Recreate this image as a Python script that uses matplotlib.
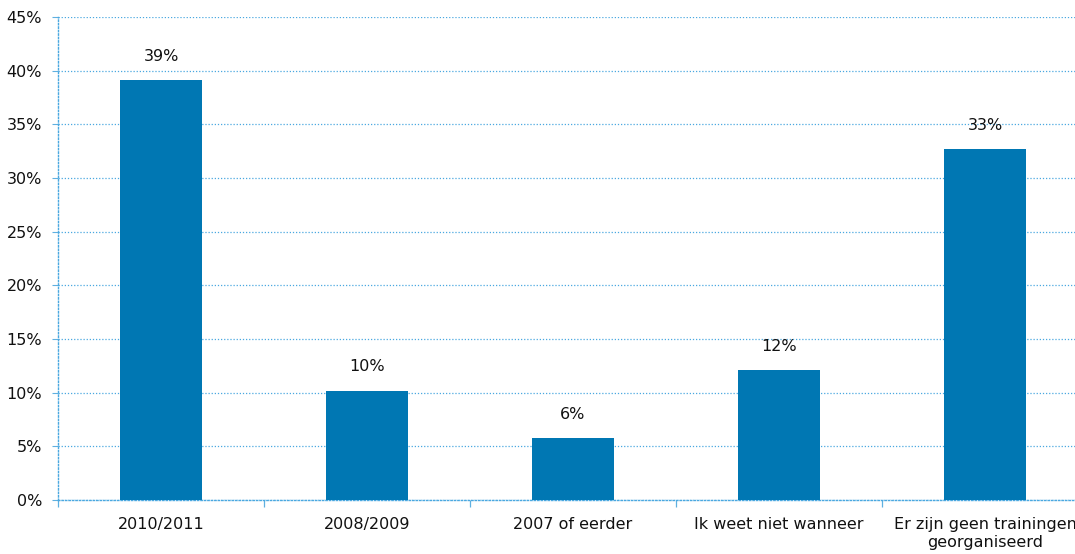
import matplotlib
matplotlib.use("Agg")
import matplotlib.pyplot as plt
from matplotlib.ticker import FuncFormatter, MultipleLocator, FixedLocator

categories = ["2010/2011", "2008/2009", "2007 of eerder", "Ik weet niet wanneer",
              "Er zijn geen trainingen\ngeorganiseerd"]
values = [39.1, 10.2, 5.8, 12.1, 32.7]
labels = ["39%", "10%", "6%", "12%", "33%"]

plt.rcParams['font.family'] = ['DejaVu Sans']
fig = plt.figure(figsize=(10.75, 5.54), dpi=100)
ax = fig.add_axes([58/1075, 54/554, 1030/1075, 483/554])

x = list(range(len(categories)))
ax.bar(x, values, width=0.40, color="#0077B3", zorder=3)
for xi, v, lab in zip(x, values, labels):
    ax.text(xi, v + 1.5, lab, ha="center", va="bottom", fontsize=11.5, color="#111111")

ax.set_xlim(-0.5, 4.5)
ax.set_ylim(0, 45)
ax.yaxis.set_major_locator(MultipleLocator(5))
ax.yaxis.set_major_formatter(FuncFormatter(lambda v, p: f"{int(v)}%"))
ax.set_xticks(x)
ax.set_xticklabels(categories, fontsize=11.5, color="#111111", linespacing=1.3)
ax.xaxis.set_minor_locator(FixedLocator([-0.5, 0.5, 1.5, 2.5, 3.5, 4.5]))
ax.tick_params(axis="x", which="major", length=0, pad=12)
ax.tick_params(axis="x", which="minor", length=5, color="#5fb0e0", width=0.9)
ax.tick_params(axis="y", length=4, color="#5fb0e0", labelsize=11.5, labelcolor="#111111", pad=7.5)

ax.grid(axis="y", color="#4aa8e0", linestyle=(0, (1, 1.5)), linewidth=0.9, zorder=0)
for s in ["top", "right"]:
    ax.spines[s].set_visible(False)
for s in ["left", "bottom"]:
    ax.spines[s].set_color("#4aa8e0")
    ax.spines[s].set_linestyle((0, (1, 1.5)))
    ax.spines[s].set_linewidth(1.0)

fig.savefig("out.png", dpi=100)
